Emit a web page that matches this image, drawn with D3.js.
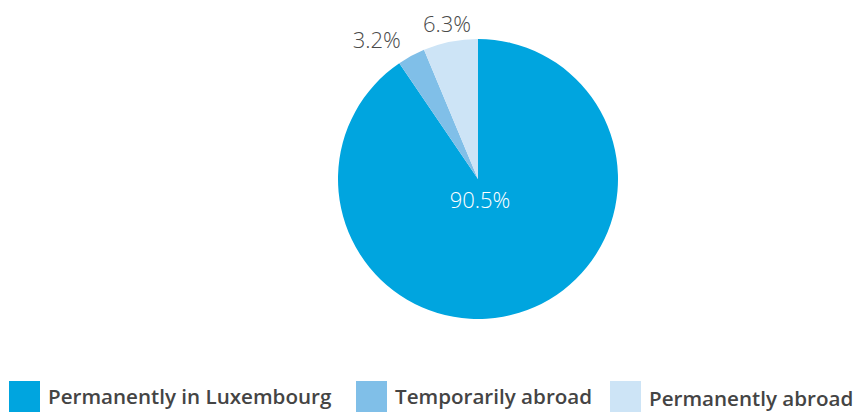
<!DOCTYPE html>
<html><head><meta charset="utf-8">
<script src="https://cdn.jsdelivr.net/npm/d3@7"></script>
<style>body{margin:0;background:#fff}svg{display:block}</style>
</head><body>
<svg id="c" width="857" height="412"></svg>
<script>
const categories = ["Permanently in Luxembourg", "Temporarily abroad", "Permanently abroad"];
const values = [90.5, 3.2, 6.3];
const colors = ["#00a5df", "#80bfe8", "#cde4f6"];

const svg = d3.select("#c");
const cx = 478, cy = 179, R = 140;
const pie = d3.pie().sort(null).value(d => d)(values);
const arc = d3.arc().innerRadius(0).outerRadius(R);
const labelArc = d3.arc().innerRadius(158).outerRadius(158);
const g = svg.append("g").attr("transform", `translate(${cx},${cy})`);
g.selectAll("path").data(pie).join("path")
  .attr("d", arc).attr("fill", (d, i) => colors[i]);

const font = "'Open Sans', sans-serif";
g.selectAll("text.lbl").data(pie).join("text")
  .attr("class", "lbl")
  .each(function(d, i) {
    const t = d3.select(this);
    const txt = d3.format(".1f")(d.data) + "%";
    if (i === 0) {
      t.attr("x", 2).attr("y", 29).attr("text-anchor", "middle").attr("fill", "#fff");
    } else {
      const [x, y] = labelArc.centroid(d);
      t.attr("x", x < -50 ? x - 2 : x).attr("y", y + 8)
       .attr("text-anchor", x < -50 ? "end" : "middle").attr("fill", "#4a4a4a");
    }
    t.text(txt);
  })
  .attr("font-family", font).attr("font-size", 22).attr("font-weight", 300);

const legX = [9, 356, 610];
const legendG = svg.append("g");
categories.forEach((c, i) => {
  legendG.append("rect").attr("x", legX[i]).attr("y", 381).attr("width", 31).attr("height", 31).attr("fill", colors[i]);
  legendG.append("text").attr("x", legX[i] + 39).attr("y", i === 2 ? 406 : 404)
    .attr("font-family", font).attr("font-size", 20.6).attr("font-weight", 600)
    .attr("fill", "#444").text(c);
});
</script>
</body></html>
